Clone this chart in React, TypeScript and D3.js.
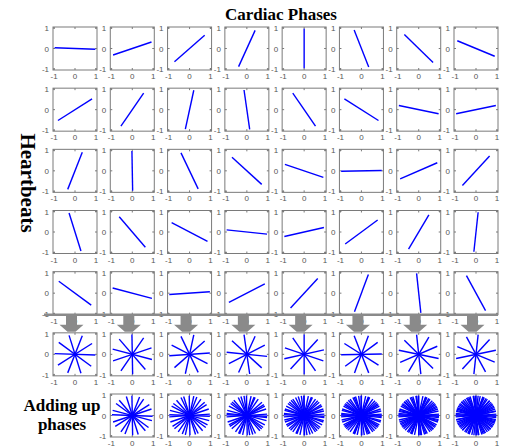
import React from 'react'
import * as d3 from 'd3'

// line angle (degrees) per cardiac phase, one array per heartbeat
const beat1 = [-2, 19, 42, 66, 90, 111, 135, 157]
const beat2 = [33, 56, 78, 98, 124, 147, 168, 192]
const beat3 = [69, 91, 115, 137, 161, 181, 204, 228]
const beat4 = [107, 130, 152, 174, 193, 217, 240, 264]
const beat5 = [143, 165, 184, 208, 228, 250, 276, 298]
const beats = [beat1, beat2, beat3, beat4, beat5]

const ticks = [-1, 0, 1]
const lineRadius = 0.97

const W = 506
const H = 447
const boxW = 44
const boxH = 43
const colX = d3.scaleLinear().domain([0, 7]).range([53, 454])
const rowY = d3.scaleLinear().domain([0, 6]).range([27, 394])

const x = d3.scaleLinear().domain([-1.05, 1.05]).range([0, boxW])
const y = d3.scaleLinear().domain([-1.05, 1.05]).range([boxH, 0])

const Panel = ({ tx, ty, angles }: { tx: number; ty: number; angles: number[] }) => {
    return (
        <g transform={`translate(${tx},${ty})`}>
            <rect width={boxW} height={boxH} fill="white" stroke="#7a7a7a" strokeWidth={1} />
            {ticks.map(t => (
                <g key={'t' + t}>
                    <line x1={x(t)} x2={x(t)} y1={boxH} y2={boxH - 2} stroke="#7a7a7a" />
                    <line x1={x(t)} x2={x(t)} y1={0} y2={2} stroke="#7a7a7a" />
                    <line x1={0} x2={2} y1={y(t)} y2={y(t)} stroke="#7a7a7a" />
                    <line x1={boxW} x2={boxW - 2} y1={y(t)} y2={y(t)} stroke="#7a7a7a" />
                    <text x={x(t)} y={boxH + 9} textAnchor="middle" fontSize={8} fill="#555"
                        fontFamily="Liberation Sans, Arial, sans-serif">{t}</text>
                    <text x={-4} y={y(t) + 3} textAnchor="end" fontSize={8} fill="#555"
                        fontFamily="Liberation Sans, Arial, sans-serif">{t}</text>
                </g>
            ))}
            {angles.map((a, i) => {
                const r = (a * Math.PI) / 180
                const dx = lineRadius * Math.cos(r)
                const dy = lineRadius * Math.sin(r)
                return (
                    <line key={i} x1={x(-dx)} y1={y(-dy)} x2={x(dx)} y2={y(dy)}
                        stroke="#0000ff" strokeWidth={1.4} />
                )
            })}
        </g>
    )
}

export default function App() {
    const cols = d3.range(8)
    const lineY = rowY(4) + boxH
    return (
        <svg width={W} height={H} style={{ position: 'absolute', left: 0, top: 0 }}>
            <rect width={W} height={H} fill="white" />
            <text x={281} y={20} textAnchor="middle" fontSize={17} fontWeight="bold"
                fontFamily="Liberation Serif, Times New Roman, serif">Cardiac Phases</text>
            <text transform="translate(21,183) rotate(90)" textAnchor="middle" fontSize={21} fontWeight="bold"
                fontFamily="Liberation Serif, Times New Roman, serif">Heartbeats</text>
            <text x={62} y={411} textAnchor="middle" fontSize={17} fontWeight="bold"
                fontFamily="Liberation Serif, Times New Roman, serif">Adding up</text>
            <text x={62} y={430} textAnchor="middle" fontSize={17} fontWeight="bold"
                fontFamily="Liberation Serif, Times New Roman, serif">phases</text>

            {beats.map((b, r) => cols.map(c => (
                <Panel key={`${r}-${c}`} tx={colX(c)} ty={rowY(r)} angles={[b[c]]} />
            )))}

            {/* arrows */}
            <line x1={44} x2={498} y1={lineY} y2={lineY} stroke="#8a8a8a" strokeWidth={2.5} />
            {cols.map(c => {
                const cx = colX(c) + boxW / 2 - 3.5
                const pts = [
                    [cx - 5.5, lineY], [cx + 5.5, lineY], [cx + 5.5, lineY + 10],
                    [cx + 12, lineY + 10], [cx + 4, lineY + 17], [cx - 4, lineY + 17],
                    [cx - 12, lineY + 10], [cx - 5.5, lineY + 10],
                ]
                return <polygon key={'a' + c} points={pts.map(p => p.join(',')).join(' ')} fill="#8a8a8a" />
            })}

            {/* sum over heartbeats per phase */}
            {cols.map(c => (
                <Panel key={'s' + c} tx={colX(c)} ty={rowY(5)} angles={beats.map(b => b[c])} />
            ))}

            {/* adding up phases */}
            {cols.slice(1).map(c => (
                <Panel key={'c' + c} tx={colX(c)} ty={rowY(6)}
                    angles={beats.flatMap(b => b.slice(0, c + 1))} />
            ))}
        </svg>
    )
}
